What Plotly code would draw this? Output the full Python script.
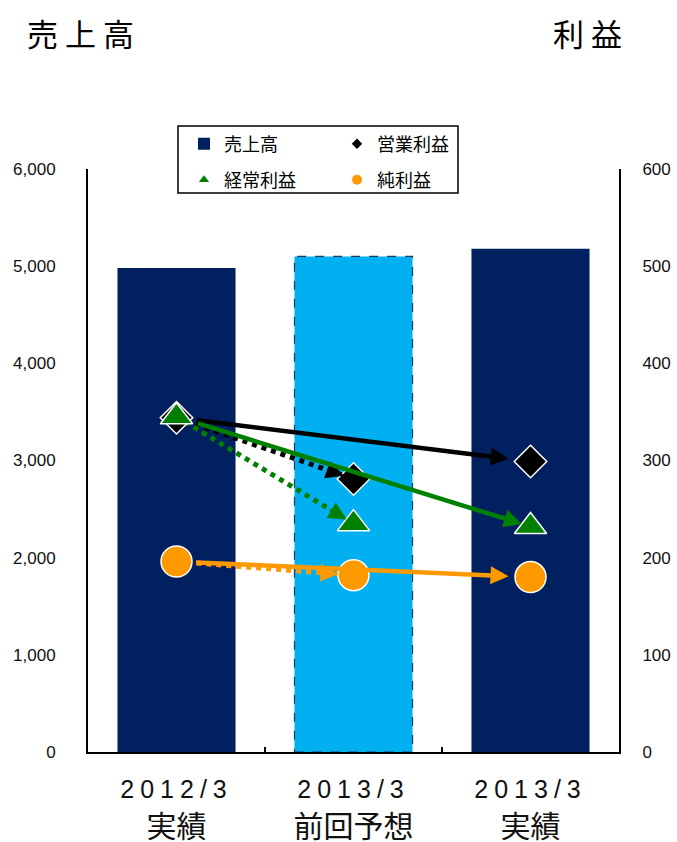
import plotly.graph_objects as go

# ---- data -------------------------------------------------------------
categories = ["2012/3 実績", "2013/3 前回予想", "2013/3 実績"]
period_labels = ["2012/3", "2013/3", "2013/3"]
basis_labels = ["実績", "前回予想", "実績"]

sales = [4980, 5100, 5180]              # 売上高 (left axis)
operating_profit = [344, 281, 299]      # 営業利益 (right axis)
ordinary_profit = [345, 235, 232]       # 経常利益 (right axis)
net_profit = [196, 182, 180]            # 純利益 (right axis)

sales_ticks = [0, 1000, 2000, 3000, 4000, 5000, 6000]
profit_ticks = [0, 100, 200, 300, 400, 500, 600]

# ---- styling ------------------------------------------------------------
NAVY = "#002060"
SKY = "#00B0F0"
GREEN = "#008000"
ORANGE = "#FF9900"
CJK = "Noto Sans CJK JP"
LATIN = "Liberation Sans, Arial, Noto Sans CJK JP"
BAR_GAP = 0.333
FORECAST = 1            # index of the forecast column
BASE, ACTUAL = 0, 2     # indices of the comparison columns

W, H = 677, 842
ML, MR, MT, MB = 88, 58, 169, 90
PW, PH = W - ML - MR, H - MT - MB


def px_x(px):
    return (px - ML) / PW


def px_y(py):
    return (H - MB - py) / PH


fig = go.Figure()

# sales bars
fig.add_trace(go.Bar(
    x=categories, y=sales, name="売上高",
    marker=dict(color=[NAVY, SKY, NAVY], line=dict(width=0)),
    yaxis="y", legend="legend", showlegend=True, hoverinfo="skip",
))

profit_series = [
    ("営業利益", operating_profit, "diamond", 25, "black", "legend"),
    ("経常利益", ordinary_profit, "triangle-up", 28, GREEN, "legend2"),
    ("純利益", net_profit, "circle", 31, ORANGE, "legend2"),
]

# dotted links: previous actual -> previous forecast
for name, vals, sym, size, col, lg in profit_series:
    fig.add_trace(go.Scatter(
        x=[categories[BASE], categories[FORECAST]], y=[vals[BASE], vals[FORECAST]],
        mode="lines", line=dict(color=col, width=5, dash="dot"),
        yaxis="y2", showlegend=False, hoverinfo="skip",
    ))

# profit markers
for name, vals, sym, size, col, lg in profit_series:
    fig.add_trace(go.Scatter(
        x=categories, y=vals, mode="markers", name=name,
        marker=dict(symbol=sym, size=size, color=col, line=dict(color="white", width=1.5)),
        yaxis="y2", showlegend=False,
    ))

# legend entries with small symbols
legend_sizes = {"diamond": 8, "triangle-up": 9, "circle": 10}
for name, vals, sym, size, col, lg in profit_series:
    fig.add_trace(go.Scatter(
        x=[None], y=[None], mode="markers", name=name,
        marker=dict(symbol=sym, size=legend_sizes[sym], color=col),
        yaxis="y2", legend=lg, showlegend=True,
    ))

# arrows
annotations = []
solid_standoff = {"diamond": (19, 22), "triangle-up": (21, 9), "circle": (18, 22)}
dotted_standoff = {"diamond": 10, "triangle-up": 8, "circle": 15}
for name, vals, sym, size, col, lg in profit_series:
    s0, s1 = solid_standoff[sym]
    annotations.append(dict(
        x=ACTUAL, y=vals[ACTUAL], ax=BASE, ay=vals[BASE],
        xref="x", yref="y2", axref="x", ayref="y2",
        showarrow=True, arrowhead=2, arrowsize=0.8, arrowwidth=4.5,
        arrowcolor=col, standoff=s1, startstandoff=s0, text="",
    ))
    f = 0.15
    annotations.append(dict(
        x=FORECAST, y=vals[FORECAST],
        ax=FORECAST - f * (FORECAST - BASE),
        ay=vals[FORECAST] - f * (vals[FORECAST] - vals[BASE]),
        xref="x", yref="y2", axref="x", ayref="y2",
        showarrow=True, arrowhead=2, arrowsize=7.2, arrowwidth=0.5,
        arrowcolor=col, standoff=dotted_standoff[sym], text="",
    ))

# axis titles
annotations.append(dict(
    text="<span style='letter-spacing:7px'>売上高</span>", xref="paper", yref="paper",
    x=px_x(25), y=px_y(33), xanchor="left", yanchor="middle", showarrow=False,
    font=dict(family=CJK, size=31, color="black"),
))
annotations.append(dict(
    text="<span style='letter-spacing:7px'>利益</span>", xref="paper", yref="paper",
    x=px_x(631), y=px_y(33), xanchor="right", yanchor="middle", showarrow=False,
    font=dict(family=CJK, size=31, color="black"),
))

tick_text = [
    f"<span style='font-size:25px;letter-spacing:6px'>{p}</span><br>{b}"
    for p, b in zip(period_labels, basis_labels)
]

half = (1 - BAR_GAP) / 2
shapes = [
    # dashed outline of the forecast bar
    dict(type="rect", xref="x", yref="y",
         x0=FORECAST - half, x1=FORECAST + half, y0=0, y1=sales[FORECAST],
         line=dict(color="#1F3864", width=1.2, dash="dash"),
         fillcolor="rgba(0,0,0,0)", layer="above"),
    # legend frame
    dict(type="rect", xref="paper", yref="paper",
         x0=px_x(178), x1=px_x(458), y0=px_y(193), y1=px_y(126),
         line=dict(color="black", width=1.5), fillcolor="white", layer="above"),
]

legend_common = dict(
    orientation="h", xanchor="left", yanchor="middle",
    entrywidth=108, entrywidthmode="pixels", itemwidth=30,
    font=dict(family=CJK, size=18, color="black"),
    bgcolor="rgba(0,0,0,0)", borderwidth=0,
)

fig.update_layout(
    width=W, height=H,
    margin=dict(l=ML, r=MR, t=MT, b=MB, pad=0, autoexpand=False),
    paper_bgcolor="white", plot_bgcolor="white",
    bargap=BAR_GAP,
    showlegend=True,
    legend=dict(legend_common, x=px_x(184), y=px_y(144)),
    legend2=dict(legend_common, x=px_x(184), y=px_y(180)),
    xaxis=dict(
        type="category", categoryorder="array", categoryarray=categories,
        tickvals=categories, ticktext=tick_text,
        tickson="boundaries", ticks="inside", ticklen=5, tickwidth=1.5, tickcolor="black",
        showline=True, linecolor="black", linewidth=2,
        showgrid=False, zeroline=False, automargin=False,
        tickfont=dict(family=LATIN, size=30, color="#111"),
        range=[-0.5, 2.5], ticklabelstandoff=8,
    ),
    yaxis=dict(
        range=[0, 6000], tickvals=sales_ticks, tickformat=",d",
        showline=True, linecolor="black", linewidth=2,
        ticks="", showgrid=False, zeroline=False, automargin=False,
        tickfont=dict(family=LATIN, size=17, color="#111"),
        ticklabelstandoff=27,
    ),
    yaxis2=dict(
        range=[0, 600], tickvals=profit_ticks, overlaying="y", side="right",
        showline=True, linecolor="black", linewidth=2,
        ticks="", showgrid=False, zeroline=False, automargin=False,
        tickfont=dict(family=LATIN, size=17, color="#111"),
        ticklabelstandoff=18,
    ),
    annotations=annotations,
    shapes=shapes,
)

fig.write_html("out.html")
